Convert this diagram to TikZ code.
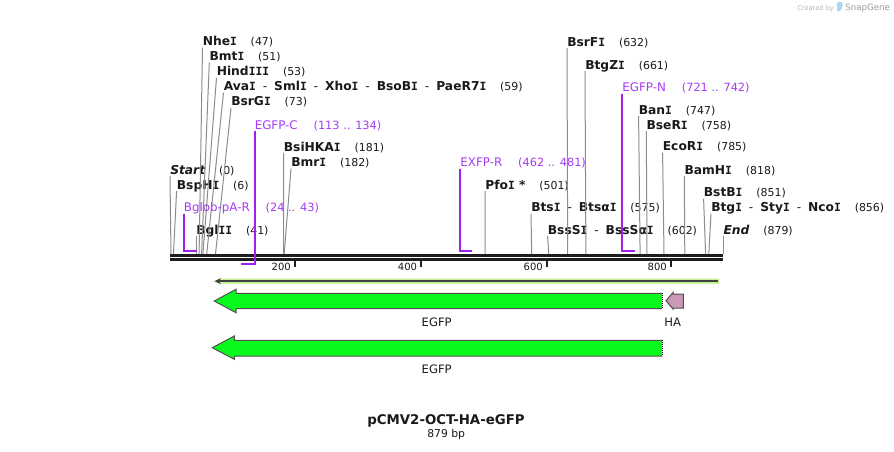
\documentclass[tikz,border=0pt]{standalone}
\usepackage{fontspec}
\setmainfont{DejaVu Sans}
\newfontfamily\serifI{DejaVu Sans Mono}[Scale=0.92]
\usepackage{xcolor}
\usepackage{tikz}
\usetikzlibrary{arrows.meta}
\definecolor{ink}{HTML}{1A1A1A}
\definecolor{cutgray}{HTML}{8C8C8C}
\definecolor{primline}{HTML}{A020F0}
\definecolor{primtext}{HTML}{A33CF2}
\definecolor{seqblack}{HTML}{1E1E1E}
\definecolor{egfp}{HTML}{08FA1C}
\definecolor{featedge}{HTML}{505050}
\definecolor{orflight}{HTML}{C4F19A}
\definecolor{orfdark}{HTML}{404040}
\definecolor{hatag}{HTML}{C999B7}
\definecolor{snapblue}{HTML}{A8D8F4}
\newcommand{\orsep}{\hspace{5.2pt}{\mdseries -}\hspace{5.2pt}}
\newcommand{\Ib}{{\serifI I}}

\begin{document}
\begin{tikzpicture}[x=0.75pt, y=-0.75pt, >=Stealth,
  enz/.style={inner sep=0pt, anchor=base west, text depth=1.2pt, text=ink,
    font=\fontsize{9.2}{11}\selectfont\bfseries},
  cutnum/.style={inner sep=0pt, anchor=base west, text=ink, xshift=10pt,
    font=\fontsize{8.2}{10}\selectfont},
  primer/.style={inner sep=0pt, anchor=base west, text depth=1.2pt, text=primtext,
    font=\fontsize{8.9}{11}\selectfont},
  primnum/.style={inner sep=0pt, anchor=base west, text=primtext, xshift=11.5pt,
    font=\fontsize{8.5}{10}\selectfont},
  cut/.style={draw=cutgray, line width=0.75pt},
  bracket/.style={draw=primline, line width=1.5pt},
  seq/.style={draw=seqblack, line width=2pt},
  tickmark/.style={draw=seqblack, line width=1.5pt},
  ticklabel/.style={anchor=east, inner sep=0pt, text=ink, font=\fontsize{7.5}{9}\selectfont},
  feature/.style={draw=featedge, line width=0.75pt, fill=egfp},
  featlabel/.style={inner sep=0pt, text=ink, font=\fontsize{8.7}{10}\selectfont}]

  \useasboundingbox (0,0) rectangle (894,451);
  \fill[white] (0,0) rectangle (894,451);

  % watermark
  \node[anchor=base west, inner sep=0pt, text=black!28, font=\fontsize{5}{6}\selectfont]
    (created) at (797,10) {Created by};
  \fill[snapblue, rounded corners=0.8pt] (837,2) -- (842.5,2) -- (842.5,7.5) -- (839.5,11.5) -- (837,11.5) -- cycle;
  \node[anchor=base west, inner sep=0pt, text=black!38, font=\fontsize{6.5}{8}\selectfont]
    (snapgene) at (845,10) {SnapGene};

  % sequence line and scale
  \coordinate (seqA) at (170,255.4);
  \coordinate (seqB) at (723.3,255.4);
  \coordinate (seqC) at (170,259.4);
  \coordinate (seqD) at (723.3,259.4);
  \draw[seq] (seqA) -- (seqB);
  \draw[seq] (seqC) -- (seqD);
  \draw[tickmark] (295,260) -- (295,267);
  \draw[tickmark] (421,260) -- (421,267);
  \draw[tickmark] (547,260) -- (547,267);
  \draw[tickmark] (671,260) -- (671,267);
  \node[ticklabel] (t200) at (291,266.7) {200};
  \node[ticklabel] (t400) at (417.3,266.7) {400};
  \node[ticklabel] (t600) at (543,266.7) {600};
  \node[ticklabel] (t800) at (667,266.7) {800};

  % cut sites on the line
  \coordinate (s0) at (171,254);
  \coordinate (s6) at (173.5,254);
  \coordinate (s41) at (196,254);
  \coordinate (s47) at (199.1,254);
  \coordinate (s51) at (201.6,254);
  \coordinate (s53) at (202.9,254);
  \coordinate (s59) at (206.7,254);
  \coordinate (s73) at (215.5,254);
  \coordinate (s181) at (283.5,254);
  \coordinate (s182) at (284.2,254);
  \coordinate (s501) at (485.1,254);
  \coordinate (s575) at (531.7,254);
  \coordinate (s602) at (548.8,254);
  \coordinate (s632) at (567.7,254);
  \coordinate (s661) at (585.9,254);
  \coordinate (s747) at (640.1,254);
  \coordinate (s758) at (647,254);
  \coordinate (s785) at (664,254);
  \coordinate (s818) at (684.8,254);
  \coordinate (s851) at (705.6,254);
  \coordinate (s856) at (708.8,254);
  \coordinate (s879) at (723.3,254);

  % enzymes, left group
  \node[enz] (nheI) at (202.5,45.7) {Nhe\Ib};
  \node[cutnum] (nheIn) at (nheI.base east) {(47)};
  \node[enz] (bmtI) at (209.3,60.7) {Bmt\Ib};
  \node[cutnum] (bmtIn) at (bmtI.base east) {(51)};
  \node[enz] (hindIII) at (216.5,75.9) {Hind\Ib\Ib\Ib};
  \node[cutnum] (hindIIIn) at (hindIII.base east) {(53)};
  \node[enz] (avaI) at (223.5,90.9) {Ava\Ib\orsep Sml\Ib\orsep Xho\Ib\orsep BsoB\Ib\orsep PaeR7\Ib};
  \node[cutnum] (avaIn) at (avaI.base east) {(59)};
  \node[enz] (bsrGI) at (231,105.9) {BsrG\Ib};
  \node[cutnum] (bsrGIn) at (bsrGI.base east) {(73)};
  \node[enz] (bsiHKAI) at (283.6,151) {BsiHKA\Ib};
  \node[cutnum] (bsiHKAIn) at (bsiHKAI.base east) {(181)};
  \node[enz] (bmrI) at (291,166.7) {Bmr\Ib};
  \node[cutnum] (bmrIn) at (bmrI.base east) {(182)};
  \node[enz] (start) at (170,174.3) {\itshape Start};
  \node[cutnum] (startn) at (start.base east) {(0)};
  \node[enz] (bspHI) at (176.6,189) {BspH\Ib};
  \node[cutnum] (bspHIn) at (bspHI.base east) {(6)};
  \node[enz] (bglII) at (196,234.3) {Bgl\Ib\Ib};
  \node[cutnum] (bglIIn) at (bglII.base east) {(41)};

  % enzymes, right group
  \node[enz] (pfoI) at (485,189) {Pfo\Ib\ *};
  \node[cutnum] (pfoIn) at (pfoI.base east) {(501)};
  \node[enz] (btsI) at (531,211.7) {Bts\Ib\orsep Btsα\Ib};
  \node[cutnum] (btsIn) at (btsI.base east) {(575)};
  \node[enz] (bssSI) at (547.6,234.2) {BssS\Ib\orsep BssSα\Ib};
  \node[cutnum] (bssSIn) at (bssSI.base east) {(602)};
  \node[enz] (bsrFI) at (567,46) {BsrF\Ib};
  \node[cutnum] (bsrFIn) at (bsrFI.base east) {(632)};
  \node[enz] (btgZI) at (585,69.3) {BtgZ\Ib};
  \node[cutnum] (btgZIn) at (btgZI.base east) {(661)};
  \node[enz] (banI) at (638.6,114.3) {Ban\Ib};
  \node[cutnum] (banIn) at (banI.base east) {(747)};
  \node[enz] (bseRI) at (646.3,129.3) {BseR\Ib};
  \node[cutnum] (bseRIn) at (bseRI.base east) {(758)};
  \node[enz] (ecoRI) at (662.6,150.7) {EcoR\Ib};
  \node[cutnum] (ecoRIn) at (ecoRI.base east) {(785)};
  \node[enz] (bamHI) at (684.3,174) {BamH\Ib};
  \node[cutnum] (bamHIn) at (bamHI.base east) {(818)};
  \node[enz] (bstBI) at (703.6,196.7) {BstB\Ib};
  \node[cutnum] (bstBIn) at (bstBI.base east) {(851)};
  \node[enz] (btgI) at (711,211.7) {Btg\Ib\orsep Sty\Ib\orsep Nco\Ib};
  \node[cutnum] (btgIn) at (btgI.base east) {(856)};
  \node[enz] (endl) at (723.3,234.2) {\itshape End};
  \node[cutnum] (endln) at (endl.base east) {(879)};

  % lines to the cut sites
  \draw[cut] (nheI.south west) -- (s47);
  \draw[cut] (bmtI.south west) -- (s51);
  \draw[cut] (hindIII.south west) -- (s53);
  \draw[cut] (avaI.south west) -- (s59);
  \draw[cut] (bsrGI.south west) -- (s73);
  \draw[cut] (bsiHKAI.south west) -- (s181);
  \draw[cut] (bmrI.south west) -- (s182);
  \draw[cut] (start.south west) -- (s0);
  \draw[cut] (bspHI.south west) -- (s6);
  \draw[cut] (bglII.south west) -- (s41);
  \draw[cut] (pfoI.south west) -- (s501);
  \draw[cut] (btsI.south west) -- (s575);
  \draw[cut] (bssSI.south west) -- (s602);
  \draw[cut] (bsrFI.south west) -- (s632);
  \draw[cut] (btgZI.south west) -- (s661);
  \draw[cut] (banI.south west) -- (s747);
  \draw[cut] (bseRI.south west) -- (s758);
  \draw[cut] (ecoRI.south west) -- (s785);
  \draw[cut] (bamHI.south west) -- (s818);
  \draw[cut] (bstBI.south west) -- (s851);
  \draw[cut] (btgI.south west) -- (s856);
  \draw[cut] (endl.south west) -- (s879);

  % primers
  \node[primer] (egfpC) at (254.5,129.3) {EGFP-C};
  \node[primnum] (egfpCn) at (egfpC.base east) {(113 .. 134)};
  \node[primer] (bglob) at (183.6,211.7) {Bglob-pA-R};
  \node[primnum] (bglobn) at (bglob.base east) {(24 .. 43)};
  \node[primer] (exfpR) at (460.2,166.7) {EXFP-R};
  \node[primnum] (exfpRn) at (exfpR.base east) {(462 .. 481)};
  \node[primer] (egfpN) at (622.2,91.7) {EGFP-N};
  \node[primnum] (egfpNn) at (egfpN.base east) {(721 .. 742)};
  \coordinate (pC) at (241.3,264);
  \coordinate (pB) at (197,250.7);
  \coordinate (pX) at (472,250.7);
  \coordinate (pN) at (634.6,250.7);
  \draw[bracket] (egfpC.south west) |- (pC);
  \draw[bracket] (bglob.south west) |- (pB);
  \draw[bracket] (exfpR.south west) |- (pX);
  \draw[bracket] (egfpN.south west) |- (pN);

  % open reading frame
  \fill[orflight] (719.3,278.6) -- (220,278.6) -- (213.3,281.2) -- (220,283.8) -- (719.3,283.8) -- cycle;
  \coordinate (orfR) at (717.5,281.2);
  \coordinate (orfL) at (214.8,281.2);
  \draw[orfdark, line width=1.5pt, -{Stealth[length=4.5pt, width=4.5pt]}] (orfR) -- (orfL);

  % features
  \draw[feature] (662.3,293.3) -- (236,293.3) -- (236,289.3) -- (214.3,301) -- (236,312.7) -- (236,308.7) -- (662.3,308.7);
  \draw[white, line width=0.9pt] (662.3,293.3) -- (662.3,308.7);
  \draw[black, line width=0.9pt, dash pattern=on 0.75pt off 0.75pt] (662.3,293.3) -- (662.3,308.7);
  \draw[draw=featedge, line width=0.75pt, fill=hatag] (683.3,294) -- (673,294) -- (673,292.5) -- (666,300.7) -- (673,309) -- (673,308) -- (683.3,308) -- cycle;
  \node[featlabel] (egfp1) at (436.7,322.4) {EGFP};
  \node[featlabel] (ha) at (672.7,321.8) {HA};

  \draw[feature] (662.3,340.3) -- (234.3,340.3) -- (234.3,336) -- (212.3,347.7) -- (234.3,359.3) -- (234.3,356) -- (662.3,356);
  \draw[white, line width=0.9pt] (662.3,340.3) -- (662.3,356);
  \draw[black, line width=0.9pt, dash pattern=on 0.75pt off 0.75pt] (662.3,340.3) -- (662.3,356);
  \node[featlabel] (egfp2) at (436.7,369) {EGFP};

  % title
  \node[anchor=base, inner sep=0pt, text=ink, font=\fontsize{10}{12}\selectfont\bfseries]
    (title) at (446,424.3) {pCMV2-OCT-HA-eGFP};
  \node[anchor=base, inner sep=0pt, text=ink, font=\fontsize{8.1}{10}\selectfont]
    (size) at (446.2,437.7) {879 bp};
\end{tikzpicture}
\end{document}
